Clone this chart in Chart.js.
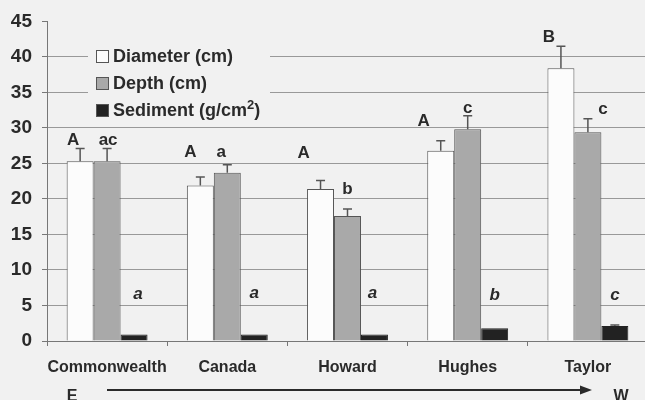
<!DOCTYPE html>
<html>
<head>
<meta charset="utf-8">
<script src="https://cdn.jsdelivr.net/npm/chart.js@4"></script>
<style>
body{margin:0;background:#f1f1f1;overflow:hidden;}
</style>
</head>
<body>
<canvas id="ChartCanvas" width="650" height="400"></canvas>
<script>
const sites = ['Commonwealth', 'Canada', 'Howard', 'Hughes', 'Taylor'];
const diameter = [25.3, 21.9, 21.4, 26.8, 38.4];
const diameterErr = [27.1, 23.1, 22.6, 28.2, 41.5];
const depth = [25.3, 23.7, 17.6, 29.8, 29.4];
const depthErr = [27.1, 24.8, 18.6, 31.7, 31.3];
const sediment = [0.9, 0.9, 0.9, 1.8, 2.1];
const sedimentErr = [null, null, null, null, 2.25];
const yTicks = [0, 5, 10, 15, 20, 25, 30, 35, 40, 45];

// significance letters and the height (in cm) they sit at
const diameterLetters = ['A', 'A', 'A', 'A', 'B'];
const diameterLetterAt = [28.3, 26.6, 26.4, 31, 42.7];
const depthLetters = ['ac', 'a', 'b', 'c', 'c'];
const depthLetterAt = [28.3, 26.6, 21.3, 32.7, 32.6];
const sedimentLetters = ['a', 'a', 'a', 'b', 'c'];
const sedimentLetterAt = [6.6, 6.7, 6.7, 6.4, 6.4];

const bg = '#f1f1f1';
const font = '"Liberation Sans", Arial, sans-serif';

const extras = {
    id: 'extras',
    afterDatasetsDraw: (chart) => {
        const ctx = chart.ctx;
        const y = chart.scales.y;
        const errs = [diameterErr, depthErr, sedimentErr];
        ctx.save();
        ctx.strokeStyle = '#555';
        ctx.lineWidth = 1.5;
        errs.forEach((err, i) => {
            chart.getDatasetMeta(i).data.forEach((bar, j) => {
                if (err[j] == null) return;
                const ye = y.getPixelForValue(err[j]);
                ctx.beginPath();
                ctx.moveTo(bar.x, bar.y);
                ctx.lineTo(bar.x, ye);
                ctx.moveTo(bar.x - 4.5, ye);
                ctx.lineTo(bar.x + 4.5, ye);
                ctx.stroke();
            });
        });

        // letters
        const sets = [
            [diameterLetters, diameterLetterAt, [-7, -10, -17, -17, -12], 'bold 17px ' + font],
            [depthLetters, depthLetterAt, [1, -6, 0, 0, 15], 'bold 17px ' + font],
            [sedimentLetters, sedimentLetterAt, [4, 0, -2, 0, 0], 'italic bold 17px ' + font]
        ];
        ctx.fillStyle = '#2a2a2a';
        ctx.textAlign = 'center';
        ctx.textBaseline = 'middle';
        sets.forEach((s, i) => {
            ctx.font = s[3];
            chart.getDatasetMeta(i).data.forEach((bar, j) => {
                ctx.fillText(s[0][j], bar.x + s[2][j], y.getPixelForValue(s[1][j]));
            });
        });

        // legend box
        ctx.fillStyle = bg;
        ctx.fillRect(88, 40, 182, 82);
        const items = chart.data.datasets;
        items.forEach((ds, i) => {
            const cy = 57 + i * 27;
            ctx.fillStyle = ds.backgroundColor;
            ctx.strokeStyle = '#555';
            ctx.lineWidth = 1;
            ctx.fillRect(96.5, cy - 6.5, 12, 12);
            ctx.strokeRect(96.5, cy - 6.5, 12, 12);
        });
        ctx.fillStyle = '#2a2a2a';
        ctx.textAlign = 'left';
        ctx.textBaseline = 'middle';
        ctx.font = 'bold 18px ' + font;
        ctx.fillText('Diameter (cm)', 113, 57);
        ctx.fillText('Depth (cm)', 113, 84);
        let t = 'Sediment (g/cm';
        ctx.fillText(t, 113, 111);
        let w = ctx.measureText(t).width;
        ctx.font = 'bold 13px ' + font;
        ctx.fillText('2', 113 + w, 105);
        let w2 = ctx.measureText('2').width;
        ctx.font = 'bold 18px ' + font;
        ctx.fillText(')', 113 + w + w2, 111);

        // E -> W arrow
        ctx.font = 'bold 16px ' + font;
        ctx.textAlign = 'center';
        ctx.textBaseline = 'alphabetic';
        ctx.fillText('E', 72, 401);
        ctx.fillText('W', 621, 401);
        ctx.strokeStyle = '#2a2a2a';
        ctx.lineWidth = 2;
        ctx.beginPath();
        ctx.moveTo(107, 390);
        ctx.lineTo(582, 390);
        ctx.stroke();
        ctx.beginPath();
        ctx.moveTo(592, 390);
        ctx.lineTo(580, 385.5);
        ctx.lineTo(580, 394.5);
        ctx.closePath();
        ctx.fillStyle = '#2a2a2a';
        ctx.fill();
        ctx.restore();
    }
};

var ctx = document.getElementById('ChartCanvas').getContext('2d');
var myChart = new Chart(ctx, {
    type: 'bar',
    data: {
        labels: sites,
        datasets: [{
            label: 'Diameter (cm)',
            data: diameter,
            backgroundColor: '#fcfcfc',
            borderColor: '#555',
            borderWidth: 1
        }, {
            label: 'Depth (cm)',
            data: depth,
            backgroundColor: '#a9a9a9',
            borderColor: '#555',
            borderWidth: 1
        }, {
            label: 'Sediment (g/cm2)',
            data: sediment,
            backgroundColor: '#222',
            borderColor: '#222',
            borderWidth: 1
        }]
    },
    options: {
        responsive: false,
        animation: false,
        layout: { padding: { top: 18, right: 2, left: 0, bottom: 0 } },
        datasets: { bar: { barPercentage: 1, categoryPercentage: 0.673 } },
        plugins: { legend: { display: false }, tooltip: { enabled: false } },
        scales: {
            x: {
                afterFit: (s) => { s.height = 59; },
                grid: { drawOnChartArea: false, tickLength: 5, color: '#777' },
                border: { color: '#777' },
                ticks: {
                    color: '#2a2a2a',
                    padding: 12,
                    maxRotation: 0,
                    autoSkip: false,
                    font: { family: font, size: 16, weight: 'bold' }
                }
            },
            y: {
                min: 0,
                max: 45,
                afterFit: (s) => { s.width = 47; },
                afterBuildTicks: (s) => { s.ticks = yTicks.map(v => ({ value: v })); },
                grid: {
                    color: (c) => c.tick && c.tick.value === 45 ? 'rgba(0,0,0,0)' : '#999',
                    tickColor: '#777',
                    tickLength: 5
                },
                border: { color: '#777' },
                ticks: {
                    color: '#2a2a2a',
                    padding: 10,
                    font: { family: font, size: 19, weight: 'bold' }
                }
            }
        }
    },
    plugins: [extras]
});
</script>
</body>
</html>
